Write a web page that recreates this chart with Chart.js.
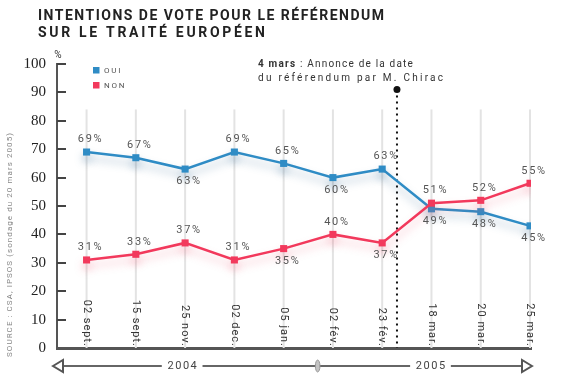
<!DOCTYPE html>
<html>
<head>
<meta charset="utf-8">
<script src="https://cdn.jsdelivr.net/npm/chart.js@4.4.1/dist/chart.umd.min.js"></script>
<style>
  html, body { margin: 0; padding: 0; background: #fff; }
  #wrap { width: 575px; height: 385px; }
</style>
</head>
<body>
<div id="wrap"><canvas id="chart" width="575" height="385"></canvas></div>
<script>
// Data
const categories = ['02 sept.', '15 sept.', '25 nov.', '02 dec.', '05 jan.', '02 fév.', '23 fév.', '18 mar.', '20 mar.', '25 mar.'];
const ouiValues = [69, 67, 63, 69, 65, 60, 63, 49, 48, 43];
const nonValues = [31, 33, 37, 31, 35, 40, 37, 51, 52, 58];
const ouiLabels = ['69%', '67%', '63%', '69%', '65%', '60%', '63%', '49%', '48%', '45%'];
const nonLabels = ['31%', '33%', '37%', '31%', '35%', '40%', '37%', '51%', '52%', '55%'];
const years = ['2004', '2005'];

// label above (-1) or below (+1) the point
const ouiLabelSide = [-1, -1, 1, -1, -1, 1, -1, 1, 1, 1];
const nonLabelSide = [-1, -1, -1, -1, 1, -1, 1, -1, -1, -1];

const BLUE = '#2f8cc5';
const RED = '#f2395c';
const FONT = 'Roboto, "DejaVu Sans", sans-serif';

// layout helpers (x in category units)
const X_MIN = -0.6, X_MAX = 9.02;
const ANNOUNCE_X = 6.3;
const YEAR_X = [1.94, 6.98];
const SPLIT_X = 4.69;
const GRID_TOP = 84;

function spaced(ctx, text, x, y, s) {
    ctx.letterSpacing = s + 'px';
    ctx.fillText(text, x, y);
    ctx.letterSpacing = '0px';
}

// spread the text so it covers 'width' px
function fitted(ctx, text, x, y, width) {
    ctx.letterSpacing = '0px';
    const w = ctx.measureText(text).width;
    spaced(ctx, text, x, y, (width - w) / (text.length - 1));
}

const decor = {
    id: 'decor',
    beforeDatasetsDraw(chart) {
        const { ctx, chartArea: area, scales: { x, y } } = chart;
        ctx.save();

        // vertical grid lines
        ctx.strokeStyle = '#e3e3e3';
        ctx.lineWidth = 2;
        categories.forEach((c, i) => {
            const px = x.getPixelForValue(i);
            ctx.beginPath();
            ctx.moveTo(px, y.getPixelForValue(GRID_TOP));
            ctx.lineTo(px, area.bottom);
            ctx.stroke();
        });

        // rotated category labels, ending on the axis
        ctx.fillStyle = '#333';
        ctx.font = '11px ' + FONT;
        ctx.textAlign = 'right';
        ctx.textBaseline = 'middle';
        categories.forEach((c, i) => {
            ctx.save();
            ctx.translate(x.getPixelForValue(i), area.bottom - 1);
            ctx.rotate(Math.PI / 2);
            spaced(ctx, c, 0, 0, 1);
            ctx.restore();
        });

        // tick marks pointing inside
        ctx.strokeStyle = '#444';
        ctx.lineWidth = 2;
        y.ticks.forEach(t => {
            if (t.value === 0) return;
            const py = Math.round(y.getPixelForValue(t.value));
            ctx.beginPath();
            ctx.moveTo(area.left, py);
            ctx.lineTo(area.left + 9, py);
            ctx.stroke();
        });

        // "%" unit
        ctx.fillStyle = '#333';
        ctx.font = '10px ' + FONT;
        ctx.textAlign = 'center';
        ctx.fillText('%', area.left + 1, 55);

        // announcement line
        const ax = x.getPixelForValue(ANNOUNCE_X);
        const dy = y.getPixelForValue(91);
        ctx.strokeStyle = '#111';
        ctx.lineWidth = 2;
        ctx.setLineDash([2, 4]);
        ctx.beginPath();
        ctx.moveTo(ax, dy + 6);
        ctx.lineTo(ax, area.bottom);
        ctx.stroke();
        ctx.setLineDash([]);
        ctx.fillStyle = '#111';
        ctx.beginPath();
        ctx.arc(ax, dy, 3.5, 0, Math.PI * 2);
        ctx.fill();

        // announcement text
        ctx.fillStyle = '#333';
        ctx.textAlign = 'left';
        ctx.textBaseline = 'alphabetic';
        ctx.font = 'bold 10px ' + FONT;
        spaced(ctx, '4 mars', 258, 67, 1.2);
        ctx.letterSpacing = '1.2px';
        const bw = ctx.measureText('4 mars').width;
        ctx.font = '10px ' + FONT;
        spaced(ctx, ' : Annonce de la date', 258 + bw, 67, 1.2);
        fitted(ctx, 'du référendum par M. Chirac', 258, 80.5, 185);

        // title
        ctx.fillStyle = '#222';
        ctx.font = 'bold 14px ' + FONT;
        fitted(ctx, 'INTENTIONS DE VOTE POUR LE RÉFÉRENDUM', 38, 19.5, 346);
        fitted(ctx, 'SUR LE TRAITÉ EUROPÉEN', 38, 36.7, 227);

        // legend
        ctx.fillStyle = BLUE;
        ctx.fillRect(93, 67, 6.5, 6.5);
        ctx.fillStyle = RED;
        ctx.fillRect(93, 82, 6.5, 6.5);
        ctx.fillStyle = '#555';
        ctx.font = '8px ' + FONT;
        ctx.textBaseline = 'middle';
        spaced(ctx, 'OUI', 104, 70.5, 1.8);
        spaced(ctx, 'NON', 104, 85.5, 1.8);

        // source
        ctx.save();
        ctx.translate(9.5, 357);
        ctx.rotate(-Math.PI / 2);
        ctx.fillStyle = '#888';
        ctx.font = '8px ' + FONT;
        fitted(ctx, 'SOURCE : CSA, IPSOS (sondage du 20 mars 2005)', 0, 0, 224);
        ctx.restore();

        // year arrow
        const ly = 366;
        const l = area.left - 4, r = area.right + 1;
        ctx.strokeStyle = '#666';
        ctx.lineWidth = 2;
        ctx.beginPath();
        ctx.moveTo(l + 10, ly);
        ctx.lineTo(r - 10, ly);
        ctx.stroke();
        ctx.font = '11px ' + FONT;
        ctx.textAlign = 'center';
        years.forEach((t, i) => {
            const px = x.getPixelForValue(YEAR_X[i]);
            ctx.letterSpacing = '1.5px';
            const w = ctx.measureText(t).width;
            ctx.fillStyle = '#fff';
            ctx.fillRect(px - w / 2 - 5, ly - 4, w + 10, 8);
            ctx.fillStyle = '#444';
            ctx.fillText(t, px + 0.75, ly);
            ctx.letterSpacing = '0px';
        });
        ctx.fillStyle = '#fff';
        ctx.strokeStyle = '#555';
        ctx.lineWidth = 2;
        [[l, l + 10], [r, r - 10]].forEach(([tip, base]) => {
            ctx.beginPath();
            ctx.moveTo(tip, ly);
            ctx.lineTo(base, ly - 6);
            ctx.lineTo(base, ly + 6);
            ctx.closePath();
            ctx.fill();
            ctx.stroke();
        });
        const sx = x.getPixelForValue(SPLIT_X);
        ctx.fillStyle = '#c4c4c4';
        ctx.strokeStyle = '#999';
        ctx.lineWidth = 1;
        ctx.beginPath();
        ctx.ellipse(sx, ly, 2.3, 6, 0, 0, Math.PI * 2);
        ctx.fill();
        ctx.stroke();

        ctx.restore();
    }
};

// soft shadow under each line
const glow = {
    id: 'glow',
    beforeDatasetDraw(chart, args) {
        const ctx = chart.ctx;
        ctx.save();
        ctx.shadowColor = args.index === 0 ? 'rgba(235, 90, 115, 0.35)' : 'rgba(60, 110, 150, 0.4)';
        ctx.shadowBlur = 8;
        ctx.shadowOffsetY = 6;
    },
    afterDatasetDraw(chart) {
        chart.ctx.restore();
    }
};

const pointLabels = {
    id: 'pointLabels',
    afterDatasetsDraw(chart) {
        const ctx = chart.ctx;
        ctx.save();
        ctx.fillStyle = '#555';
        ctx.font = '11px ' + FONT;
        ctx.textAlign = 'center';
        ctx.textBaseline = 'middle';
        const sets = [[nonLabels, nonLabelSide], [ouiLabels, ouiLabelSide]];
        sets.forEach(([labels, side], d) => {
            chart.getDatasetMeta(d).data.forEach((pt, i) => {
                spaced(ctx, labels[i], pt.x + 4, pt.y + side[i] * 12.5, 1.7);
            });
        });
        ctx.restore();
    }
};

new Chart(document.getElementById('chart'), {
    type: 'line',
    data: {
        datasets: [
            {
                label: 'NON',
                data: nonValues.map((v, i) => ({ x: i, y: v })),
                borderColor: RED,
                backgroundColor: RED,
                order: 0,
            },
            {
                label: 'OUI',
                data: ouiValues.map((v, i) => ({ x: i, y: v })),
                borderColor: BLUE,
                backgroundColor: BLUE,
                order: 1,
            },
        ],
    },
    options: {
        responsive: false,
        animation: false,
        layout: { padding: { top: 64, right: 44, bottom: 37, left: 0 } },
        elements: {
            line: { borderWidth: 2.5, tension: 0 },
            point: { pointStyle: 'rect', radius: 5, borderWidth: 0 },
        },
        plugins: {
            legend: { display: false },
            tooltip: { enabled: false },
        },
        scales: {
            x: {
                type: 'linear',
                min: X_MIN,
                max: X_MAX,
                ticks: { display: false },
                grid: { display: false, drawTicks: false },
                border: { color: '#555', width: 3 },
                afterFit: s => { s.height = 0; },
            },
            y: {
                min: 0,
                max: 100,
                ticks: {
                    stepSize: 10,
                    padding: 11,
                    color: '#222',
                    font: { family: '"Liberation Serif", serif', size: 15 },
                },
                grid: { display: false, drawTicks: false },
                border: { color: '#555', width: 2 },
                afterFit: s => { s.width = 57; },
            },
        },
    },
    plugins: [decor, glow, pointLabels],
});
</script>
</body>
</html>
